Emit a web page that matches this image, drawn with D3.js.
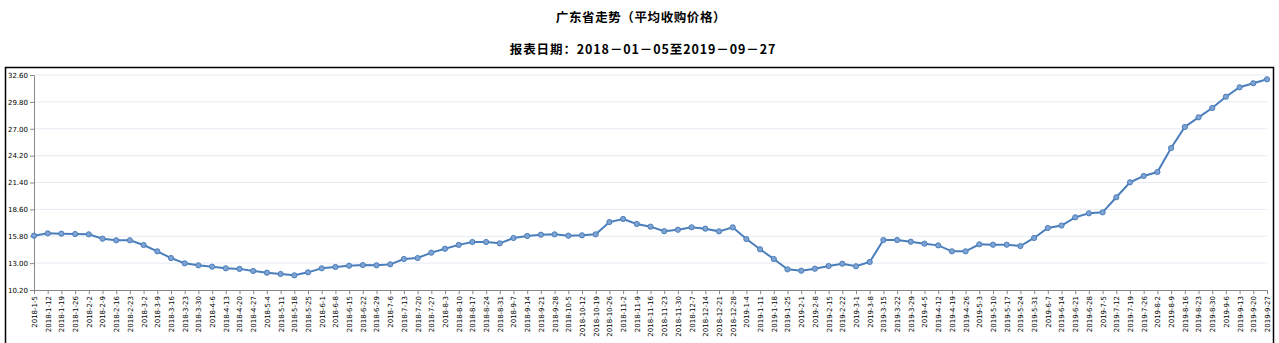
<!DOCTYPE html>
<html><head><meta charset="utf-8">
<script src="https://cdn.jsdelivr.net/npm/d3@7"></script>
<style>
html,body{margin:0;padding:0;background:#fff;}
svg{display:block;}
</style></head>
<body>
<svg id="c" width="1279" height="343"></svg>
<script>
const title = "广东省走势（平均收购价格）";
const subtitle = "报表日期：2018－01－05至2019－09－27";
const dates = ["2018-1-5","2018-1-12","2018-1-19","2018-1-26","2018-2-2","2018-2-9","2018-2-16","2018-2-23","2018-3-2","2018-3-9","2018-3-16","2018-3-23","2018-3-30","2018-4-6","2018-4-13","2018-4-20","2018-4-27","2018-5-4","2018-5-11","2018-5-18","2018-5-25","2018-6-1","2018-6-8","2018-6-15","2018-6-22","2018-6-29","2018-7-6","2018-7-13","2018-7-20","2018-7-27","2018-8-3","2018-8-10","2018-8-17","2018-8-24","2018-8-31","2018-9-7","2018-9-14","2018-9-21","2018-9-28","2018-10-5","2018-10-12","2018-10-19","2018-10-26","2018-11-2","2018-11-9","2018-11-16","2018-11-23","2018-11-30","2018-12-7","2018-12-14","2018-12-21","2018-12-28","2019-1-4","2019-1-11","2019-1-18","2019-1-25","2019-2-1","2019-2-8","2019-2-15","2019-2-22","2019-3-1","2019-3-8","2019-3-15","2019-3-22","2019-3-29","2019-4-5","2019-4-12","2019-4-19","2019-4-26","2019-5-3","2019-5-10","2019-5-17","2019-5-24","2019-5-31","2019-6-7","2019-6-14","2019-6-21","2019-6-28","2019-7-5","2019-7-12","2019-7-19","2019-7-26","2019-8-2","2019-8-9","2019-8-16","2019-8-23","2019-8-30","2019-9-6","2019-9-13","2019-9-20","2019-9-27"];
const prices = [15.86,16.10,16.07,16.03,16.00,15.55,15.38,15.38,14.89,14.23,13.53,12.98,12.77,12.63,12.46,12.40,12.18,12.00,11.87,11.73,12.04,12.46,12.60,12.73,12.80,12.77,12.87,13.43,13.53,14.09,14.50,14.90,15.20,15.20,15.06,15.62,15.83,15.96,16.00,15.86,15.90,16.00,17.28,17.60,17.08,16.80,16.33,16.48,16.73,16.59,16.31,16.73,15.51,14.44,13.43,12.35,12.21,12.42,12.70,12.94,12.67,13.12,15.41,15.41,15.23,15.03,14.85,14.23,14.23,14.96,14.92,14.92,14.78,15.62,16.66,16.92,17.77,18.19,18.29,19.86,21.42,22.08,22.49,24.99,27.18,28.19,29.16,30.34,31.32,31.74,32.15];
const yTicks = [10.2,13.0,15.8,18.6,21.4,24.2,27.0,29.8,32.6];

const svg = d3.select("#c");
const L = 34, R = 1267, T = 75, B = 290;

svg.append("rect").attr("x",5.5).attr("y",67.5).attr("width",1268).attr("height",290)
  .attr("fill","none").attr("stroke","#000").attr("stroke-width",1.5);

svg.append("text").attr("x",641).attr("y",22).attr("text-anchor","middle")
  .attr("font-family","'Noto Sans CJK SC',sans-serif").attr("font-weight","bold").attr("font-size",12.5)
  .attr("letter-spacing",0.6)
  .text(title);
svg.append("text").attr("x",643).attr("y",54).attr("text-anchor","middle")
  .attr("font-family","'Noto Sans CJK SC',sans-serif").attr("font-weight","bold").attr("font-size",12.5)
  .attr("letter-spacing",0.9)
  .text(subtitle);

const x = d3.scalePoint().domain(dates).range([L, R]);
const y = d3.scaleLinear().domain([10.2, 32.6]).range([B, T]);

// grid
svg.append("g").selectAll("line").data(yTicks.slice(1)).join("line")
  .attr("x1",L).attr("x2",R).attr("y1",d=>y(d)).attr("y2",d=>y(d))
  .attr("stroke","#e6eaf2").attr("stroke-width",1);

const yAxis = svg.append("g").attr("transform",`translate(${L},0)`)
  .call(d3.axisLeft(y).tickValues(yTicks).tickFormat(d3.format(".2f")).tickSize(4).tickSizeOuter(0));
yAxis.select(".domain").attr("stroke","#888");
yAxis.selectAll(".tick line").attr("stroke","#888");
yAxis.selectAll("text").attr("font-family","Verdana,'DejaVu Sans',sans-serif").attr("font-size",7).attr("fill","#000").attr("x",-6);

const xAxis = svg.append("g").attr("transform",`translate(0,${B})`)
  .call(d3.axisBottom(x).tickSize(4).tickSizeOuter(0));
xAxis.select(".domain").attr("stroke","#888");
xAxis.selectAll(".tick line").attr("stroke","#888");
xAxis.selectAll("text").attr("font-family","Verdana,'DejaVu Sans',sans-serif").attr("font-size",7).attr("fill","#000")
  .attr("transform","rotate(-90)").attr("text-anchor","end").attr("x",-6).attr("y",0).attr("dy","0.35em");

const line = d3.line().x((d,i)=>x(dates[i])).y(d=>y(d));
svg.append("path").datum(prices).attr("d",line).attr("fill","none")
  .attr("stroke","#4a7ebb").attr("stroke-width",2);
svg.append("g").selectAll("circle").data(prices).join("circle")
  .attr("cx",(d,i)=>x(dates[i])).attr("cy",d=>y(d)).attr("r",2.6)
  .attr("fill","#7fa3d3").attr("stroke","#4a7ebb").attr("stroke-width",1);
</script>
</body></html>
